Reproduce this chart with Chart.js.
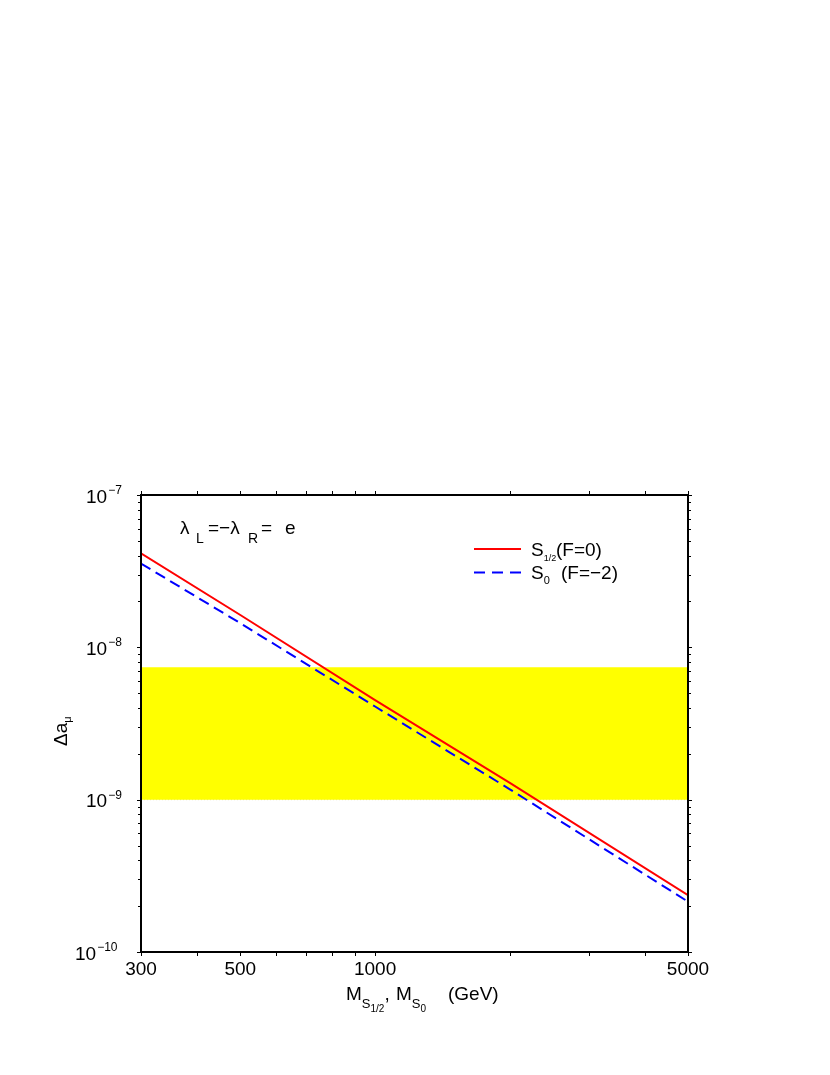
<!DOCTYPE html>
<html><head><meta charset="utf-8">
<script src="https://cdn.jsdelivr.net/npm/chart.js@4/dist/chart.umd.min.js"></script>
<style>html,body{margin:0;padding:0;background:#fff}#wrap{width:830px;height:1075px}</style>
</head><body><div id="wrap"><canvas id="c" width="830" height="1075"></canvas></div>
<script>
// ---- data ----
const masses = [300, 500, 1000, 2000, 5000];
const deltaA_S12 = [4.14e-8, 1.63e-8, 4.50e-9, 1.29e-9, 2.36e-10];
const deltaA_S0 = [3.55e-8, 1.44e-8, 4.09e-9, 1.17e-9, 2.14e-10];
const bandX = [300, 5000];
const bandLow = [1.0e-9, 1.0e-9];
const bandHigh = [7.4e-9, 7.4e-9];
const xTickLabels = [300, 500, 1000, 5000];
const xTickAll = [300, 400, 500, 600, 700, 800, 900, 1000, 2000, 3000, 4000, 5000];
const yTickExps = [-10, -9, -8, -7];

const FONT = '"Liberation Sans", Arial, Helvetica, sans-serif';
function t(ctx, s, x, y, size, align) {
  ctx.font = size + 'px ' + FONT;
  ctx.textAlign = align || 'left';
  ctx.textBaseline = 'alphabetic';
  ctx.fillText(s, x, y);
  return ctx.measureText(s).width;
}

const overlay = {
  id: 'overlay',
  beforeDraw(chart) {
    const c = chart.ctx;
    c.save(); c.fillStyle = '#fff'; c.fillRect(0, 0, chart.width, chart.height); c.restore();
  },
  afterDraw(chart) {
    const c = chart.ctx, a = chart.chartArea, xs = chart.scales.x, ys = chart.scales.y;
    c.save();
    c.strokeStyle = '#000';
    // ticks (outward)
    c.lineWidth = 1;
    xTickAll.forEach(v => {
      const px = Math.round(xs.getPixelForValue(v)) + 0.5;
      c.beginPath();
      c.moveTo(px, a.bottom); c.lineTo(px, a.bottom + 4);
      c.moveTo(px, a.top); c.lineTo(px, a.top - 4);
      c.stroke();
    });
    for (let e = -10; e <= -7; e++) {
      for (let k = 1; k <= 9; k++) {
        const v = k * Math.pow(10, e);
        if (v > 1.0001e-7) break;
        const py = Math.round(ys.getPixelForValue(v)) + 0.5;
        const L = (k === 1) ? 4 : 3;
        c.beginPath();
        c.moveTo(a.left, py); c.lineTo(a.left - L, py);
        c.moveTo(a.right, py); c.lineTo(a.right + L, py);
        c.stroke();
      }
    }
    // frame
    c.lineWidth = 2;
    c.strokeRect(a.left, a.top, a.right - a.left, a.bottom - a.top);

    c.fillStyle = '#000';
    // y tick labels
    yTickExps.forEach(e => {
      const py = ys.getPixelForValue(Math.pow(10, e));
      const ex = String(Math.abs(e));
      const x0 = 86 - (ex.length - 1) * 11;
      const w = t(c, '10', x0, py + 7.5, 19);
      t(c, '\u2212' + ex, x0 + w + 1, py - 1, 12);
    });
    // x tick labels
    xTickLabels.forEach(v => {
      t(c, String(v), xs.getPixelForValue(v), 975, 19, 'center');
    });
    // x title
    let x = 346;
    x += t(c, 'M', x, 1000, 19);
    x += t(c, 'S', x, 1008, 13);
    x += t(c, '1/2', x, 1012, 10);
    t(c, ',', x, 1000, 19);
    x = 396;
    x += t(c, 'M', x, 1000, 19);
    x += t(c, 'S', x, 1008, 13);
    t(c, '0', x, 1012, 10);
    t(c, '(GeV)', 448, 1000, 19);
    // y title
    c.save();
    c.translate(67, 746);
    c.rotate(-Math.PI / 2);
    const wy = t(c, '\u0394a', 0, 0, 19);
    t(c, '\u03bc', wy, 4, 11);
    c.restore();
    // coupling annotation
    t(c, '\u03bb', 180, 534, 19);
    t(c, 'L', 196, 543, 14);
    t(c, '=\u2212\u03bb', 208, 534, 19);
    t(c, 'R', 248, 543, 14);
    t(c, '=', 261, 534, 19);
    t(c, 'e', 285, 534, 19);
    // legend
    c.lineWidth = 2;
    c.strokeStyle = '#ff0000';
    c.beginPath(); c.moveTo(474, 549); c.lineTo(521, 549); c.stroke();
    c.strokeStyle = '#0000ff';
    c.setLineDash([11, 7]);
    c.beginPath(); c.moveTo(474, 572.5); c.lineTo(521, 572.5); c.stroke();
    c.setLineDash([]);
    let lx = 531;
    lx += t(c, 'S', lx, 556, 19);
    t(c, '1/2', lx, 561, 9);
    t(c, '(F=0)', 556, 556, 19);
    lx = 531;
    lx += t(c, 'S', lx, 579, 19);
    t(c, '0', lx, 584, 11);
    t(c, '(F=\u22122)', 561, 579, 19);
    c.restore();
  }
};

const pts = (xsArr, ysArr) => xsArr.map((m, i) => ({ x: m, y: ysArr[i] }));

new Chart(document.getElementById('c'), {
  type: 'line',
  data: {
    datasets: [
      { label: 'S1/2 (F=0)', data: pts(masses, deltaA_S12), borderColor: '#ff0000', borderWidth: 2,
        pointRadius: 0, fill: false, tension: 0, order: 1 },
      { label: 'S0 (F=-2)', data: pts(masses, deltaA_S0), borderColor: '#0000ff', borderWidth: 2,
        borderDash: [11, 6], pointRadius: 0, fill: false, tension: 0, order: 2 },
      { label: 'band high', data: pts(bandX, bandHigh), borderColor: 'rgba(0,0,0,0)', borderWidth: 0,
        backgroundColor: '#ffff00', fill: '+1', pointRadius: 0, order: 5 },
      { label: 'band low', data: pts(bandX, bandLow), borderColor: '#d8d8b0', borderWidth: 1,
        borderDash: [1, 2], pointRadius: 0, fill: false, order: 6 }
    ]
  },
  options: {
    responsive: false,
    animation: false,
    layout: { padding: { left: 141, right: 142, top: 495, bottom: 123 } },
    scales: {
      x: { type: 'logarithmic', min: 300, max: 5000, display: false },
      y: { type: 'logarithmic', min: 1e-10, max: 1e-7, display: false }
    },
    plugins: { legend: { display: false }, tooltip: { enabled: false } }
  },
  plugins: [overlay]
});
</script>
</body></html>
